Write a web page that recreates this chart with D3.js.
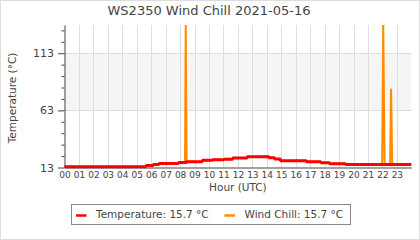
<!DOCTYPE html>
<html>
<head>
<meta charset="utf-8">
<script src="https://cdn.jsdelivr.net/npm/d3@7"></script>
<style>
  body { margin: 0; background: #fff; }
  svg { display: block; }
  text { font-family: "DejaVu Sans", sans-serif; fill: #444; }
</style>
</head>
<body>
<div id="chart"></div>
<script>
// hour tick labels along the bottom
const hourTicks = ['00', '01', '02', '03', '04', '05', '06', '07', '08', '09', '10', '11',
  '12', '13', '14', '15', '16', '17', '18', '19', '20', '21', '22', '23'];
const yMajorTicks = [13, 63, 113];
const yMinorTicks = [23, 33, 43, 53, 73, 83, 93, 103, 123, 133];

// temperature (hour, °C)
const tempTimes = [0, 5.6, 5.68, 6.1, 6.18, 6.5, 6.58, 7.85, 7.93, 8.4, 8.48, 9.5, 9.58,
  10.2, 10.28, 11.0, 11.08, 11.6, 11.68, 12.6, 12.68, 14.1, 14.18, 14.5, 14.58, 14.9, 14.98,
  16.7, 16.78, 17.7, 17.78, 18.3, 18.38, 19.4, 19.48, 24];
const tempValues = [13.7, 13.7, 14.7, 14.7, 15.6, 15.6, 16.5, 16.5, 17.4, 17.4, 18.1, 18.1, 19.4,
  19.4, 19.8, 19.8, 20.3, 20.3, 21.3, 21.3, 22.4, 22.4, 21.6, 21.6, 20.4, 20.4, 19.0,
  19.0, 18.1, 18.1, 17.1, 17.1, 16.3, 16.3, 15.7, 15.7];

// wind chill, same as temperature apart from the spikes
const chillTimes = [0, 5.6, 5.68, 6.1, 6.18, 6.5, 6.58, 7.85, 7.93, 8.34, 8.39, 8.45, 9.5, 9.58,
  10.2, 10.28, 11.0, 11.08, 11.6, 11.68, 12.6, 12.68, 14.1, 14.18, 14.5, 14.58, 14.9, 14.98,
  16.7, 16.78, 17.7, 17.78, 18.3, 18.38, 19.4, 19.48, 21.98, 22.06, 22.15, 22.53, 22.6, 22.68, 24];
const chillValues = [13.7, 13.7, 14.7, 14.7, 15.6, 15.6, 16.5, 16.5, 17.4, 17.4, 137.7, 18.1, 18.1, 19.4,
  19.4, 19.8, 19.8, 20.3, 20.3, 21.3, 21.3, 22.4, 22.4, 21.6, 21.6, 20.4, 20.4, 19.0,
  19.0, 18.1, 18.1, 17.1, 17.1, 16.3, 16.3, 15.7, 15.7, 137.7, 15.7, 15.7, 81.8, 15.7, 15.7];

const width = 420;
const height = 240;
const plot = { left: 64.5, right: 411.3, top: 25, bottom: 167.5 };

const svg = d3.select('#chart')
  .append('svg')
  .attr('width', width)
  .attr('height', height);

// outer frame
svg.append('rect')
  .attr('x', 0.5).attr('y', 0.5)
  .attr('width', width - 1).attr('height', height - 1)
  .attr('fill', '#fff')
  .attr('stroke', '#ddd');

const x = d3.scaleLinear().domain([0, 24]).range([plot.left, plot.right]);
const y = d3.scaleLinear().domain([13, 137.7]).range([plot.bottom, plot.top]);

// shaded band between the upper two labels
svg.append('rect')
  .attr('x', plot.left)
  .attr('y', y(113))
  .attr('width', plot.right - plot.left)
  .attr('height', y(63) - y(113))
  .attr('fill', '#f5f5f5');

/* grid */
const grid = svg.append('g').attr('stroke', '#ddd').attr('stroke-width', 1);
grid.selectAll('line.v')
  .data(d3.range(1, 24))
  .enter()
  .append('line')
  .attr('x1', d => Math.round(x(d)) + 0.5)
  .attr('x2', d => Math.round(x(d)) + 0.5)
  .attr('y1', plot.top)
  .attr('y2', plot.bottom);
grid.selectAll('line.h')
  .data([63, 113])
  .enter()
  .append('line')
  .attr('x1', plot.left)
  .attr('x2', plot.right)
  .attr('y1', d => Math.round(y(d)) + 0.5)
  .attr('y2', d => Math.round(y(d)) + 0.5);

/* series: wind chill below, temperature on top */
const line = d3.line()
  .x(d => x(d[0]))
  .y(d => y(d[1]));

const chillData = chillTimes.map((t, i) => [t, chillValues[i]]);
const tempData = tempTimes.map((t, i) => [t, tempValues[i]]);

svg.append('path')
  .datum(chillData)
  .attr('fill', 'none')
  .attr('stroke', '#ff8c00')
  .attr('stroke-width', 2)
  .attr('d', line);

svg.append('path')
  .datum(tempData)
  .attr('fill', 'none')
  .attr('stroke', '#ff0000')
  .attr('stroke-width', 3)
  .attr('d', line);

/* axes */
const yAxis = svg.append('g')
  .attr('transform', `translate(${plot.left},0)`)
  .call(d3.axisLeft(y).tickValues(yMajorTicks).tickSize(6.5).tickPadding(4).tickSizeOuter(0));
yAxis.selectAll('text').attr('font-size', 11).attr('font-family', '"DejaVu Sans", sans-serif');

svg.append('g')
  .attr('transform', `translate(${plot.left},0)`)
  .call(d3.axisLeft(y).tickValues(yMinorTicks).tickSize(3).tickFormat('').tickSizeOuter(0))
  .select('.domain').remove();

const xAxis = svg.append('g')
  .attr('transform', `translate(0,${plot.bottom})`)
  .call(d3.axisBottom(x)
    .tickValues(d3.range(24))
    .tickFormat(i => hourTicks[i])
    .tickSize(0)
    .tickPadding(4.5)
    .tickSizeOuter(0));
xAxis.selectAll('text')
  .attr('font-size', 9)
  .attr('font-family', '"DejaVu Sans", sans-serif');

svg.selectAll('.domain').attr('stroke', '#444');
svg.selectAll('.tick line').attr('stroke', '#444');

/* titles */
svg.append('text')
  .attr('x', 209)
  .attr('y', 15)
  .attr('text-anchor', 'middle')
  .attr('font-size', 13)
  .text('WS2350 Wind Chill 2021-05-16');

svg.append('text')
  .attr('transform', 'translate(16,98) rotate(-90)')
  .attr('text-anchor', 'middle')
  .attr('font-size', 10.5)
  .text('Temperature (°C)');

svg.append('text')
  .attr('x', (plot.left + plot.right) / 2)
  .attr('y', 191)
  .attr('text-anchor', 'middle')
  .attr('font-size', 10.5)
  .text('Hour (UTC)');

/* legend */
const legendItems = [
  { name: 'Temperature', color: '#ff0000', value: tempValues[tempValues.length - 1], x: 76 },
  { name: 'Wind Chill', color: '#ff8c00', value: chillValues[chillValues.length - 1], x: 224.5 }
];

svg.append('rect')
  .attr('x', 71.5).attr('y', 204.5)
  .attr('width', 279).attr('height', 20)
  .attr('fill', '#fff')
  .attr('stroke', '#888');

const legend = svg.append('g')
  .selectAll('g')
  .data(legendItems)
  .enter()
  .append('g');
legend.append('line')
  .attr('x1', d => d.x)
  .attr('x2', d => d.x + 10.5)
  .attr('y1', 215.5)
  .attr('y2', 215.5)
  .attr('stroke', d => d.color)
  .attr('stroke-width', 2.5);
legend.append('text')
  .attr('x', d => d.x + 20)
  .attr('y', 218.3)
  .attr('font-size', 10.5)
  .text(d => `${d.name}: ${d.value.toFixed(1)} °C`);
</script>
</body>
</html>
